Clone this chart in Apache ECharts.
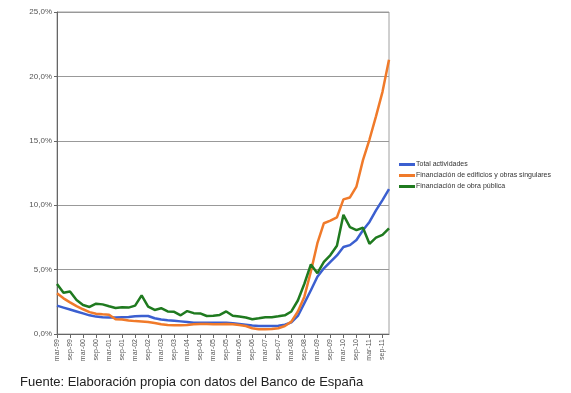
<!DOCTYPE html>
<html><head><meta charset="utf-8">
<script src="https://cdn.jsdelivr.net/npm/echarts@6/dist/echarts.min.js"></script>
<style>html,body{margin:0;padding:0;background:#fff}#c{width:571px;height:393px}</style>
</head><body><div id="c"></div>
<script>
var categories = [];
var years = ['99','00','01','02','03','04','05','06','07','08','09','10','11'];
var months = ['mar','jun','sep','dic'];
years.forEach(function(y){ months.forEach(function(m){ categories.push(m + '-' + y); }); });

var totalActividades = [2.2,2.05,1.9,1.75,1.6,1.45,1.35,1.3,1.28,1.28,1.3,1.32,1.38,1.4,1.4,1.22,1.12,1.07,1.03,0.98,0.93,0.88,0.88,0.87,0.87,0.87,0.88,0.83,0.78,0.72,0.66,0.62,0.62,0.62,0.64,0.72,0.9,1.4,2.4,3.4,4.45,5.1,5.6,6.1,6.75,6.9,7.3,8.05,8.7,9.6,10.4,11.25];
var edificios = [3.16,2.77,2.46,2.17,1.92,1.7,1.57,1.53,1.5,1.15,1.12,1.05,1.0,0.97,0.93,0.85,0.76,0.7,0.68,0.67,0.7,0.75,0.78,0.77,0.76,0.76,0.78,0.75,0.7,0.62,0.45,0.37,0.36,0.39,0.45,0.62,0.96,1.75,2.9,4.85,7.05,8.6,8.8,9.05,10.45,10.6,11.45,13.5,15.1,16.9,18.8,21.3];
var obraPublica = [3.88,3.2,3.3,2.64,2.25,2.1,2.35,2.3,2.15,2.02,2.07,2.05,2.2,3.0,2.12,1.87,2.0,1.75,1.72,1.45,1.78,1.62,1.6,1.4,1.42,1.48,1.75,1.42,1.35,1.28,1.15,1.22,1.3,1.3,1.37,1.45,1.75,2.6,3.9,5.4,4.72,5.6,6.13,6.85,9.25,8.3,8.07,8.25,7.0,7.48,7.7,8.2];
var seriesNames = ['Total actividades','Financiación de edificios y obras singulares','Financiación de obra pública'];
var sourceText = 'Fuente: Elaboración propia con datos del Banco de España';

var colors = ['#3b5fd0','#f07a2a','#1f7a1f'];
var font = 'Liberation Sans, Arial, sans-serif';
var chart = echarts.init(document.getElementById('c'));
function mk(name, data, color){
  return {name:name, type:'line', data:data, symbol:'none', smooth:false,
    lineStyle:{width:2.5, color:color}, itemStyle:{color:color}};
}
chart.setOption({
  animation:false,
  textStyle:{fontFamily:font},
  grid:{left:57, right:182, top:12, bottom:59, show:true, borderColor:'#a0a0a0', borderWidth:1},
  title:{text:sourceText, left:15, top:371, textStyle:{fontSize:13, fontWeight:'normal', color:'#222', fontFamily:font}},
  legend:{orient:'vertical', left:394, top:155, itemWidth:16, itemHeight:3, itemGap:2, icon:'rect',
    textStyle:{fontSize:7, color:'#333', lineHeight:9, padding:[0,0,0,-4]}, data:seriesNames},
  xAxis:{type:'category', data:categories, boundaryGap:false,
    axisLine:{lineStyle:{color:'#666', width:1}},
    axisTick:{interval:1, length:4, lineStyle:{color:'#666'}},
    axisLabel:{interval:1, rotate:90, fontSize:7, color:'#555', margin:5, fontFamily:font},
    splitLine:{show:false}},
  yAxis:{type:'value', min:0, max:25, interval:5,
    axisLine:{show:true, lineStyle:{color:'#666', width:1}},
    axisTick:{show:true, length:3, lineStyle:{color:'#666'}},
    axisLabel:{fontSize:8, color:'#555', margin:5, fontFamily:font,
      formatter:function(v){return v.toFixed(1).replace('.',',')+'%';}},
    splitLine:{lineStyle:{color:'#999', width:1}}},
  series:[mk(seriesNames[0], totalActividades, colors[0]), mk(seriesNames[1], edificios, colors[1]), mk(seriesNames[2], obraPublica, colors[2])]
});
</script></body></html>
